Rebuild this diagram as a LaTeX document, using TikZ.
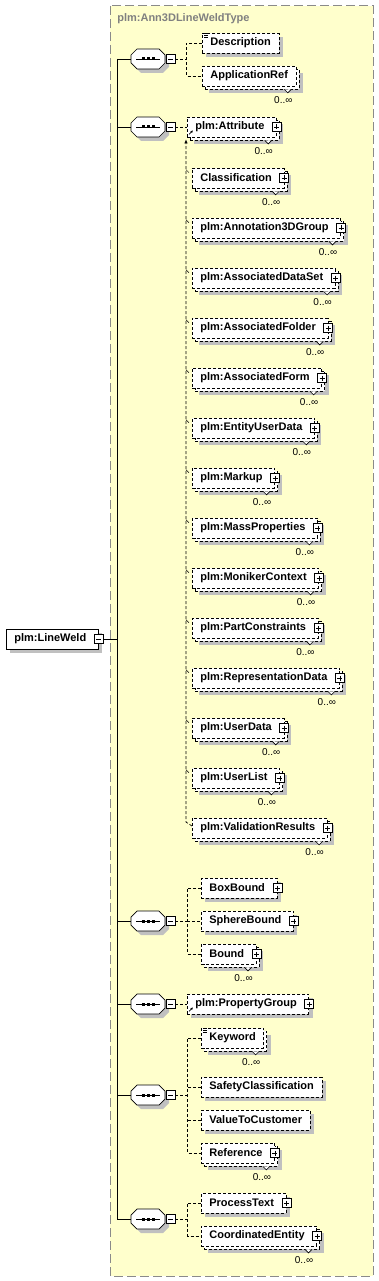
\documentclass[tikz,border=0pt]{standalone}
\usepackage{fontspec}
\setmainfont{Liberation Sans}
\usetikzlibrary{arrows.meta}
\definecolor{TypeYellow}{HTML}{FFFFCC}
\definecolor{TypeRule}{HTML}{8A8A8A}
\definecolor{TypeTitle}{HTML}{808080}
\definecolor{ShadowGrey}{HTML}{C0C0C0}
\newcommand\elemfont{\fontsize{11}{13}\selectfont\bfseries}
\newcommand\card[1]{%
  \filldraw[fill=white,solid,line width=.6pt] ([shift={(-12,3)}]#1.south east) -- ++(3.5,3.5) -- ++(3.5,-3.5);
  \node[cardlabel] (#1-card) at ([shift={(-13,14)}]#1.south east) {0..∞};}
\newcommand\seqnode[2]{%
  \coordinate (#1-o) at #2;
  \fill[ShadowGrey] ([shift={(4,0)}]#1-o) -- ++(6,-6) -- ++(22,0) -- ++(6,6) -- ++(0,8)
    -- ++(-6,6) -- ++(-22,0) -- ++(-6,-6) -- cycle;
  \draw[fill=white] ([shift={(0,-4)}]#1-o) -- ++(6,-6) -- ++(22,0) -- ++(6,6) -- ++(0,8)
    -- ++(-6,6) -- ++(-22,0) -- ++(-6,-6) -- cycle;
  \node[seq] (#1) at #2 {};
  \draw ([xshift=-12pt]#1.center) -- ([xshift=12pt]#1.center);
  \foreach \k in {-5,0,5} \fill ([xshift=\k pt]#1.center) +(-1.5,-1.5) rectangle +(1.5,1.5);}

\begin{document}
\begin{tikzpicture}[
  x=1pt,y=-1pt,line width=.7pt,
  typebox/.style={draw=TypeRule,fill=TypeYellow,dash pattern=on 9pt off 4pt,line width=1pt},
  typename/.style={anchor=west,text=TypeTitle,font=\elemfont,inner sep=0pt},
  drop/.style={preaction={draw=none,fill=ShadowGrey,transform canvas={shift={(4pt,-4pt)}}}},
  stacked/.style={preaction={draw=none,fill=ShadowGrey,transform canvas={shift={(7pt,-7pt)}}},
    preaction={draw=black,fill=white,dash pattern=on 3pt off 2pt,transform canvas={shift={(3pt,-3pt)}}}},
  elem/.style={draw,fill=white,dash pattern=on 3pt off 2pt,anchor=west,minimum height=20pt,
    inner xsep=8pt,inner ysep=0pt,font=\elemfont},
  minusbox/.style={draw,solid,fill=white,minimum size=9pt,inner sep=0pt,line width=.6pt,
    path picture={\draw ([xshift=2pt]path picture bounding box.west) -- ([xshift=-2pt]path picture bounding box.east);}},
  plusbox/.style={minusbox,
    path picture={\draw ([xshift=2pt]path picture bounding box.west) -- ([xshift=-2pt]path picture bounding box.east)
      ([yshift=-2pt]path picture bounding box.north) -- ([yshift=2pt]path picture bounding box.south);}},
  expand/.style={execute at end node={\hspace{4pt}},
    append after command={node[plusbox] (\tikzlastnode-x) at (\tikzlastnode.east) {}}},
  root/.style={draw,solid,fill=white,anchor=west,minimum height=20pt,inner xsep=8pt,inner ysep=0pt,
    font=\elemfont,drop,execute at end node={\hspace{4pt}},
    append after command={node[minusbox] (\tikzlastnode-m) at (\tikzlastnode.east) {}}},
  seq/.style={anchor=west,minimum width=34pt,minimum height=20pt,inner sep=0pt,
    append after command={node[minusbox,anchor=west] (\tikzlastnode-m) at (\tikzlastnode.east) {}}},
  link/.style={draw,dash pattern=on 3pt off 2pt},
  refmark/.style={solid,line width=.6pt,-{Latex[length=2.5pt,width=2.5pt]}},
  cardlabel/.style={font=\fontsize{10}{12}\selectfont,inner sep=0pt}
]
  \useasboundingbox (0,0) rectangle (379,1281);
  \draw[typebox] (110,6) rectangle (373,1276);
  \node[typename] (typename) at (117,19) {plm:Ann3DLineWeldType};

  \node[root] (lineweld) at (6,639) {plm:LineWeld};
  \coordinate (trunk) at (117,639);

  \seqnode{seqinfo}{(131,59)}
  \seqnode{seqattr}{(131,127)}
  \seqnode{seqbound}{(131,921)}
  \seqnode{seqprop}{(131,1004)}
  \seqnode{seqkey}{(131,1095)}
  \seqnode{seqproc}{(131,1219)}

  % description block
  \node[elem,drop] (descr) at (202,43) {Description};
  \node[elem,stacked] (appref) at (202,76) {ApplicationRef};

  % attribute substitution group
  \node[elem,stacked,expand] (attr) at (187,127) {plm:Attribute};
  \node[elem,stacked,expand] (classif) at (192,178) {Classification};
  \node[elem,stacked,expand] (annot) at (192,228) {plm:Annotation3DGroup};
  \node[elem,stacked,expand] (dataset) at (192,278) {plm:AssociatedDataSet};
  \node[elem,stacked,expand] (folder) at (192,328) {plm:AssociatedFolder};
  \node[elem,stacked,expand] (form) at (192,378) {plm:AssociatedForm};
  \node[elem,stacked,expand] (entity) at (192,428) {plm:EntityUserData};
  \node[elem,stacked,expand] (markup) at (192,478) {plm:Markup};
  \node[elem,stacked,expand] (mass) at (192,528) {plm:MassProperties};
  \node[elem,stacked,expand] (moniker) at (192,578) {plm:MonikerContext};
  \node[elem,stacked,expand] (constr) at (192,628) {plm:PartConstraints};
  \node[elem,stacked,expand] (repdata) at (192,678) {plm:RepresentationData};
  \node[elem,stacked,expand] (userdata) at (192,728) {plm:UserData};
  \node[elem,stacked,expand] (userlist) at (192,778) {plm:UserList};
  \node[elem,stacked,expand] (valres) at (192,828) {plm:ValidationResults};

  % bounds
  \node[elem,drop,expand] (boxb) at (201,888) {BoxBound};
  \node[elem,drop,expand] (sphereb) at (201,921) {SphereBound};
  \node[elem,stacked,expand] (bound) at (201,954) {Bound};

  \node[elem,drop,expand] (propgroup) at (187,1004) {plm:PropertyGroup};

  % keywords
  \node[elem,stacked] (keyword) at (201,1038) {Keyword};
  \node[elem,drop] (safety) at (201,1087) {SafetyClassification};
  \node[elem,drop] (value) at (201,1120) {ValueToCustomer};
  \node[elem,stacked,expand] (reference) at (201,1153) {Reference};

  \node[elem,drop,expand] (proctext) at (201,1203) {ProcessText};
  \node[elem,stacked,expand] (coord) at (201,1236) {CoordinatedEntity};

  \foreach \member in {appref,attr,classif,annot,dataset,folder,form,entity,markup,mass,
      moniker,constr,repdata,userdata,userlist,valres,bound,keyword,reference,coord}
    {\card{\member}}

  % text content marks and references
  \foreach \k in {1,3,5} {
    \draw[line width=.5pt] ([shift={(2,\k)}]descr.north west) -- ++(4,0);
    \draw[line width=.5pt] ([shift={(2,\k)}]keyword.north west) -- ++(4,0);
  }
  \draw[refmark] ([shift={(2pt,3pt)}]attr.south west) -- ++(4,-4);
  \draw[refmark] ([shift={(2pt,3pt)}]propgroup.south west) -- ++(4,-4);

  % model tree
  \draw (lineweld-m.east) -- (trunk);
  \draw (trunk |- seqinfo.west) -- (trunk |- seqproc.west);
  \foreach \seqname in {seqinfo,seqattr,seqbound,seqprop,seqkey,seqproc}
    \draw (trunk |- \seqname.west) -- (\seqname.west);

  \draw[link] (seqinfo-m.east) -- ++(11,0) coordinate (binfo);
  \draw[link] (descr.west) -| (binfo) |- (appref.west);
  \draw[link] (seqattr-m.east) -- (attr.west);
  \draw[link] (seqbound-m.east) -- ++(12,0) coordinate (bbound);
  \draw[link] (boxb.west) -| (bbound) |- (bound.west);
  \draw[link] (bbound) -- (sphereb.west);
  \draw[link] (seqprop-m.east) -- (propgroup.west);
  \draw[link] (seqkey-m.east) -- ++(12,0) coordinate (bkey);
  \draw[link] (keyword.west) -| (bkey) |- (reference.west);
  \draw[link] (safety.west) -- (safety.west -| bkey);
  \draw[link] (value.west) -- (value.west -| bkey);
  \draw[link] (seqproc-m.east) -- ++(12,0) coordinate (bproc);
  \draw[link] (proctext.west) -| (bproc) |- (coord.west);

  % substitution group line
  \draw[link,-{Latex[length=4pt,width=3.5pt]}] ([yshift=2pt]valres.west) -- ++(-6,-4)
    -- ([xshift=-1pt,yshift=-2pt]attr.south west);
  \foreach \member in {classif,annot,dataset,folder,form,entity,markup,mass,moniker,constr,
      repdata,userdata,userlist}
    \draw[solid,line width=.5pt] ([xshift=-6pt,yshift=-2pt]\member.north west) -- ++(3,3);
\end{tikzpicture}
\end{document}
